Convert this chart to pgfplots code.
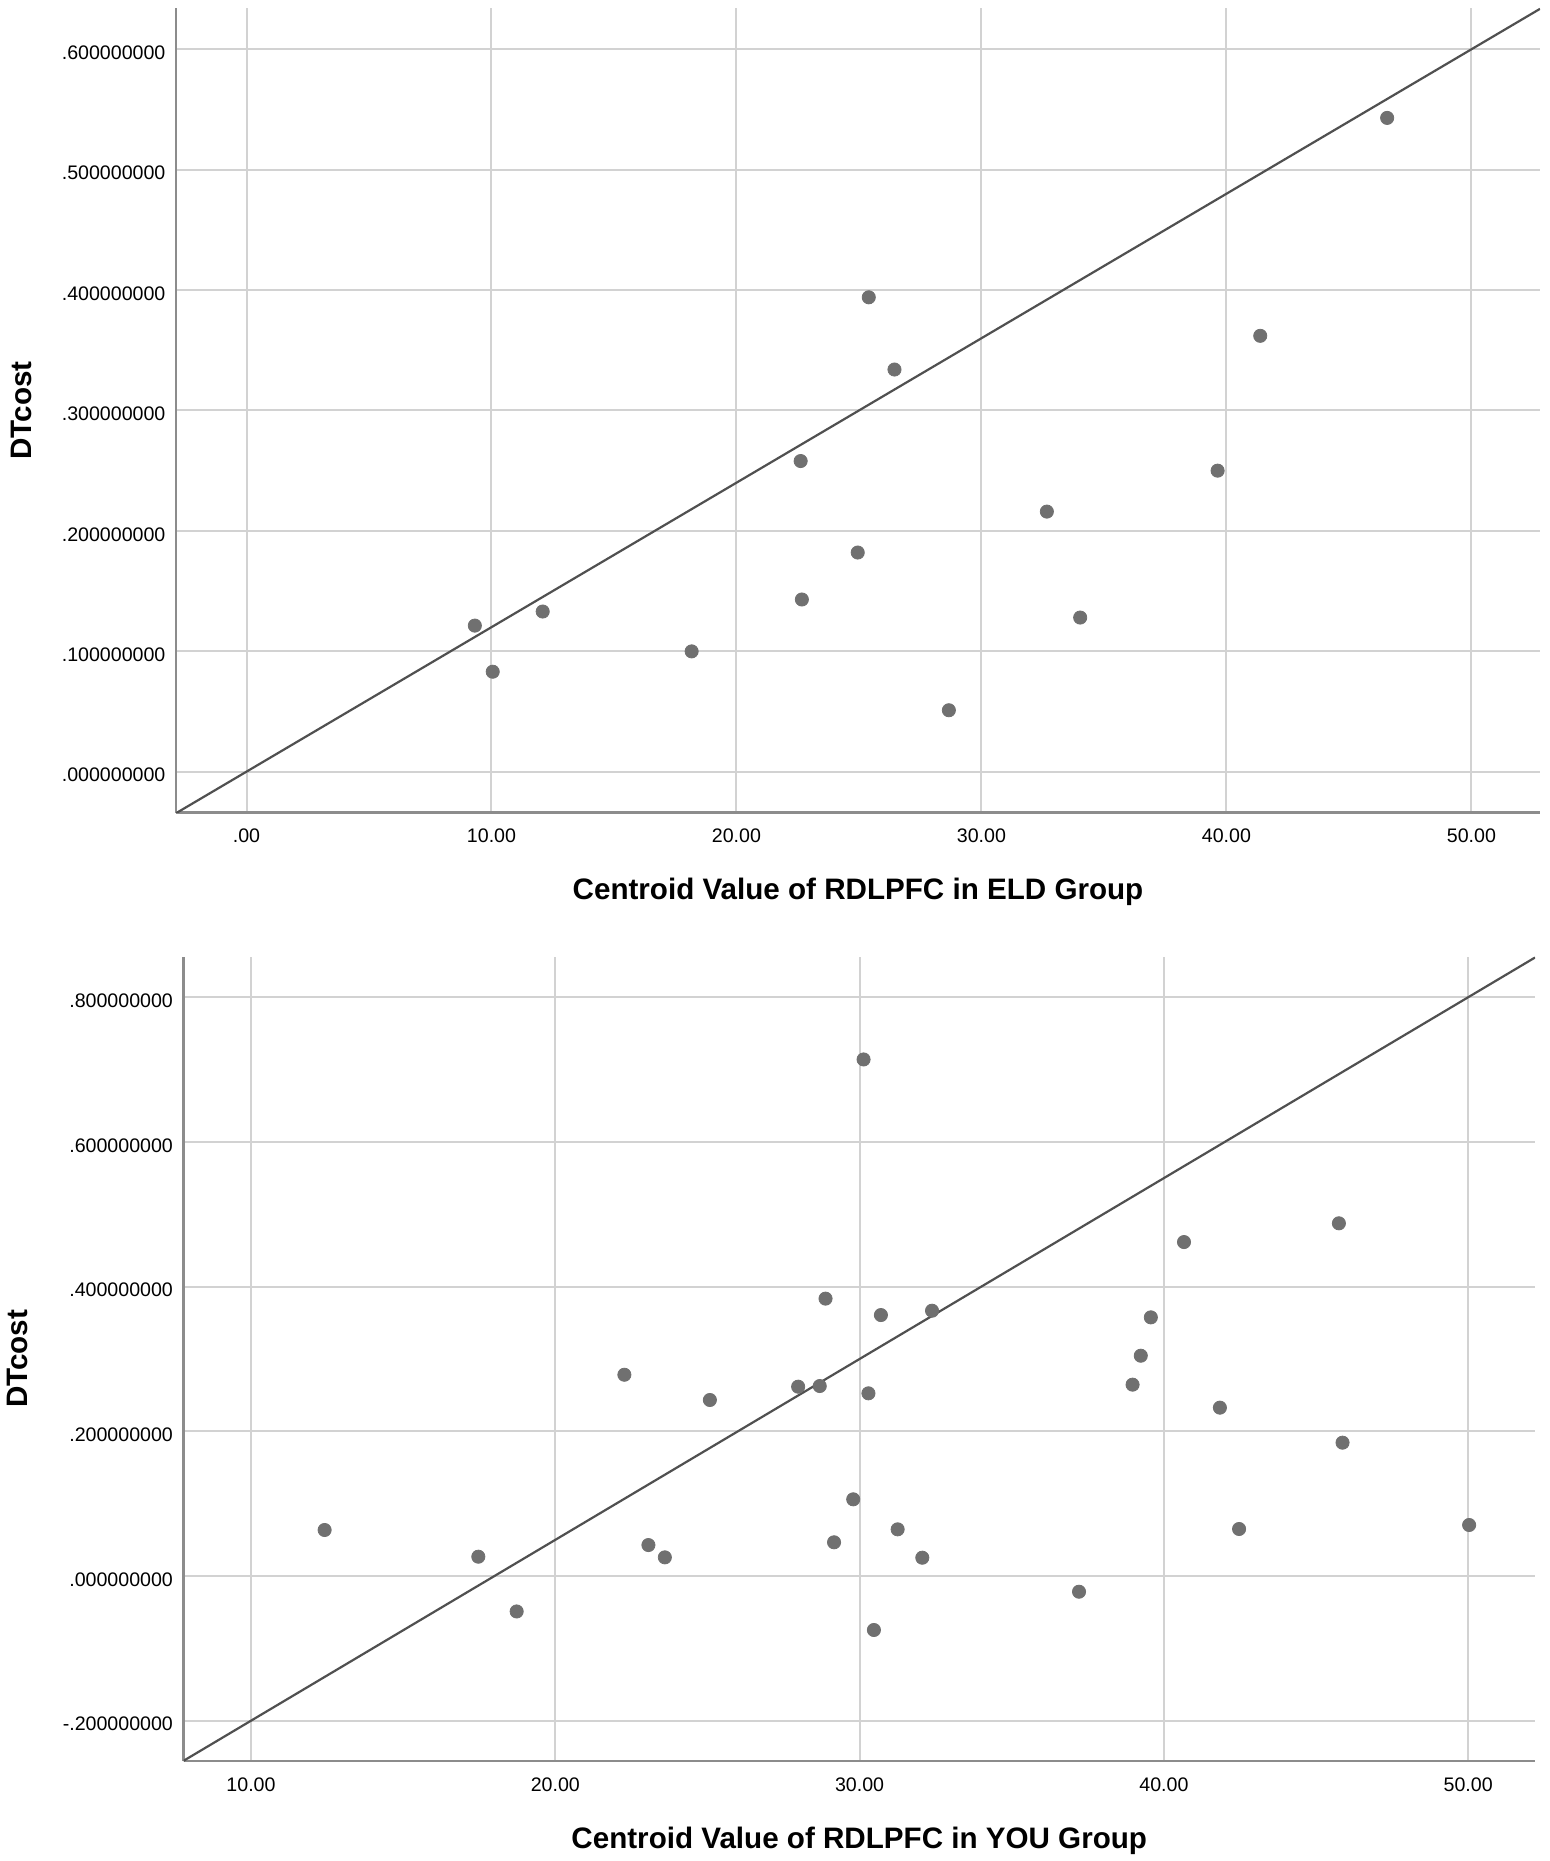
\documentclass[border=0pt]{standalone}
\usepackage{fontspec}
\setmainfont{Liberation Sans}
\usepackage{pgfplots}
\pgfplotsset{compat=1.18}
\definecolor{gridc}{RGB}{210,210,210}
\definecolor{axc}{RGB}{140,140,140}
\definecolor{ptc}{RGB}{112,112,112}
\definecolor{linec}{RGB}{80,80,80}
\pgfplotsset{
  spss/.style={
    scale only axis,
    axis lines*=left,
    axis line style={-, draw=axc, line width=1.4pt},
    major tick length=0pt,
    grid=major,
    major grid style={draw=gridc, line width=1pt},
    tick label style={font=\fontsize{9.8}{11}\selectfont, inner sep=0pt},
    label style={font=\fontsize{14.8}{17}\selectfont\bfseries, inner sep=0pt},
    yticklabel style={anchor=east, xshift=-5.1pt, yshift=-1.7pt},
    clip=true,
  }
}
\begin{document}
\begin{tikzpicture}
\path[use as bounding box] (0,0) rectangle (775pt,-930.5pt);
% ---------- top panel ----------
\begin{axis}[spss,
  at={(88pt,-4pt)}, anchor=north west,
  width=682pt, height=402.35pt,
  xmin=-2.878, xmax=52.80, ymin=-0.0341, ymax=0.6343,
  xtick={0,10,20,30,40,50},
  xticklabels={.00,10.00,20.00,30.00,40.00,50.00},
  ytick={0,0.1,0.2,0.3,0.4,0.5,0.6},
  yticklabels={.000000000,.100000000,.200000000,.300000000,.400000000,.500000000,.600000000},
  xticklabel style={anchor=north, yshift=-7.8pt},
  xlabel={Centroid Value of RDLPFC in ELD Group},
  xlabel style={at={(axis description cs:0.5,0)}, anchor=north, yshift=-32.6pt},
  ylabel={DTcost},
  ylabel style={at={([xshift=-72.1pt]axis description cs:0,0.5)}, anchor=south},
]
\addplot[linec, line width=1.1pt, no marks] coordinates {(-2.878,-0.034536) (52.80,0.6336)};
\addplot[only marks, mark=*, mark size=3.3pt, color=ptc, mark options={draw=ptc, fill=ptc}] coordinates {
(9.32,0.1213) (10.05,0.083) (12.09,0.133) (18.17,0.0999) (22.62,0.258)
(22.67,0.143) (24.95,0.182) (25.40,0.394) (26.45,0.334) (28.67,0.051)
(32.67,0.216) (34.03,0.128) (39.64,0.250) (41.38,0.362) (46.56,0.543)
};
\end{axis}
% ---------- bottom panel ----------
\begin{axis}[spss,
  at={(91.75pt,-478.35pt)}, anchor=north west,
  width=675.75pt, height=402.15pt,
  xmin=7.782, xmax=52.195, ymin=-0.2557, ymax=0.856,
  xtick={10,20,30,40,50},
  xticklabels={10.00,20.00,30.00,40.00,50.00},
  ytick={-0.2,0,0.2,0.4,0.6,0.8},
  yticklabels={-.200000000,.000000000,.200000000,.400000000,.600000000,.800000000},
  xticklabel style={anchor=north, yshift=-8.3pt},
  xlabel={Centroid Value of RDLPFC in YOU Group},
  xlabel style={at={(axis description cs:0.5,0)}, anchor=north, yshift=-32.6pt},
  ylabel={DTcost},
  ylabel style={at={([xshift=-77.5pt]axis description cs:0,0.5)}, anchor=south},
]
\addplot[linec, line width=1.1pt, no marks] coordinates {(7.782,-0.25545) (52.195,0.854875)};
\addplot[only marks, mark=*, mark size=3.3pt, color=ptc, mark options={draw=ptc, fill=ptc}] coordinates {
(12.42,0.0636) (17.47,0.0267) (18.73,-0.049) (22.27,0.2782) (23.06,0.0428)
(23.60,0.0258) (25.08,0.2433) (27.98,0.2617) (28.69,0.2626) (28.88,0.3834)
(29.16,0.0466) (29.79,0.1060) (30.13,0.714) (30.29,0.2525) (30.47,-0.0746)
(30.70,0.3607) (31.25,0.0645) (32.06,0.0253) (32.38,0.3667) (37.21,-0.0217)
(38.97,0.2645) (39.24,0.3045) (39.57,0.3575) (40.66,0.4616) (41.84,0.2327)
(42.47,0.065) (45.75,0.4875) (45.87,0.1843) (50.03,0.0705)
};
\end{axis}
\end{tikzpicture}
\end{document}
